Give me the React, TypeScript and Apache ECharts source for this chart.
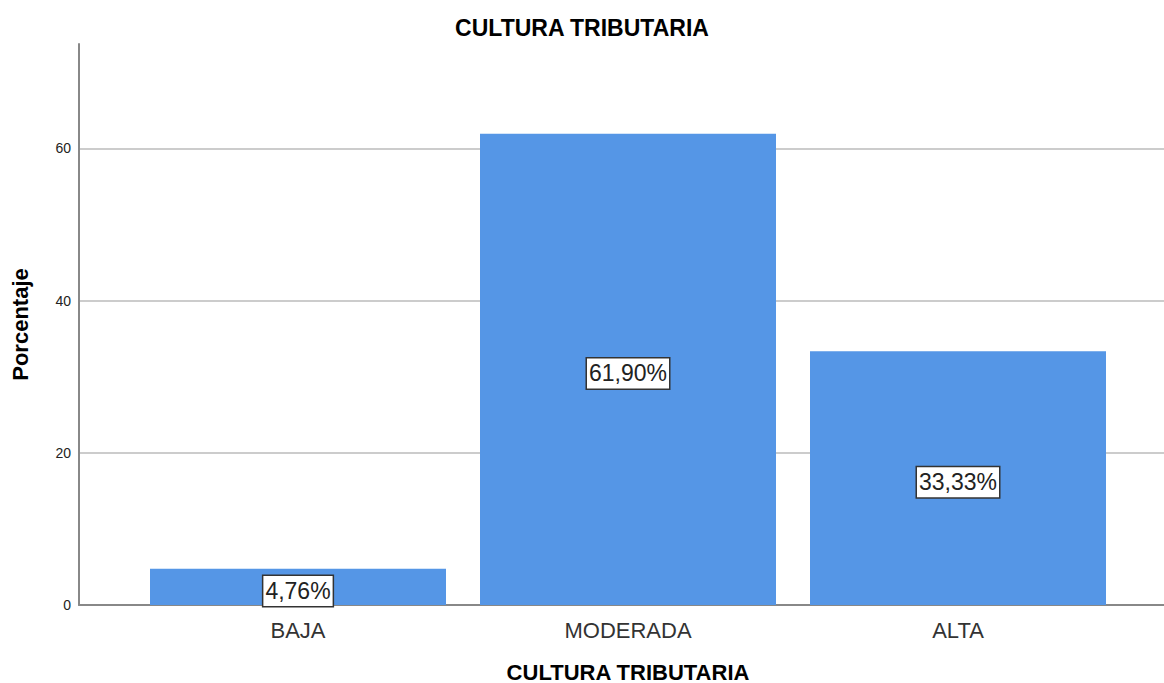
import React, { useEffect, useRef } from "react";
import * as echarts from "echarts";

const categories = ["BAJA", "MODERADA", "ALTA"];
const percentages = [4.76, 61.9, 33.33];
const yTicks = [0, 20, 40, 60];
const yMax = 73.7;

const FONT = "'Liberation Sans', Arial, sans-serif";

export default function App() {
  const ref = useRef<HTMLDivElement>(null);
  useEffect(() => {
    if (!ref.current) return;
    const chart = echarts.init(ref.current, null, { renderer: "svg" });
    chart.setOption({
      animation: false,
      backgroundColor: "#ffffff",
      title: {
        text: "CULTURA TRIBUTARIA",
        left: "center",
        top: 11,
        textStyle: { fontFamily: FONT, fontSize: 23, fontWeight: "bold", color: "#000" },
      },
      grid: [
        { left: 133, right: 41, top: 44, bottom: 78, containLabel: false, outerBoundsMode: "none" },
        { left: 79, right: 0, top: 44, bottom: 78, containLabel: false, outerBoundsMode: "none" },
      ],
      xAxis: [
        {
          type: "category",
          gridIndex: 0,
          data: categories,
          axisLine: { show: false },
          axisTick: { show: false },
          axisLabel: { fontFamily: FONT, fontSize: 22, color: "#333", margin: 14 },
          name: "CULTURA TRIBUTARIA",
          nameLocation: "middle",
          nameGap: 57,
          nameTextStyle: {
            fontFamily: FONT,
            fontSize: 22,
            lineHeight: 20,
            fontWeight: "bold",
            color: "#000",
          },
        },
        {
          type: "value",
          gridIndex: 1,
          min: 0,
          max: 1,
          axisLine: { show: true, lineStyle: { color: "#888", width: 2 } },
          axisTick: { show: false },
          axisLabel: { show: false },
          splitLine: { show: false },
        },
      ],
      yAxis: [
        {
          type: "value",
          gridIndex: 0,
          min: 0,
          max: yMax,
          show: false,
          splitLine: { show: false },
        },
        {
          type: "value",
          gridIndex: 1,
          min: yTicks[0],
          max: yMax,
          interval: 20,
          axisLine: { show: true, lineStyle: { color: "#888", width: 2 } },
          axisTick: { show: false },
          axisLabel: {
            fontFamily: FONT,
            fontSize: 14,
            color: "#222",
            margin: 8,
            showMaxLabel: false,
          },
          splitLine: {
            show: true,
            showMinLine: false,
            showMaxLine: false,
            lineStyle: { color: "#cccccc", width: 2 },
          },
          name: "Porcentaje",
          nameLocation: "middle",
          nameGap: 48,
          nameRotate: 90,
          nameTextStyle: { fontFamily: FONT, fontSize: 22, fontWeight: "bold", color: "#000" },
        },
      ],
      series: [
        {
          type: "bar",
          xAxisIndex: 0,
          yAxisIndex: 0,
          data: percentages,
          barWidth: 296,
          itemStyle: { color: "#5596e6" },
          z: 5,
          label: {
            show: true,
            position: "inside",
            offset: [0, 4],
            formatter: (p: any) => p.value.toFixed(2).replace(".", ",") + "%",
            fontFamily: FONT,
            fontSize: 23,
            color: "#222",
            backgroundColor: "#ffffff",
            borderColor: "#333",
            borderWidth: 1.5,
            padding: [4, 2, 3, 2],
          },
        },
      ],
    });
    return () => chart.dispose();
  }, []);
  return (
    <div
      ref={ref}
      style={{ position: "absolute", left: 0, top: 0, width: 1164, height: 683 }}
    />
  );
}
